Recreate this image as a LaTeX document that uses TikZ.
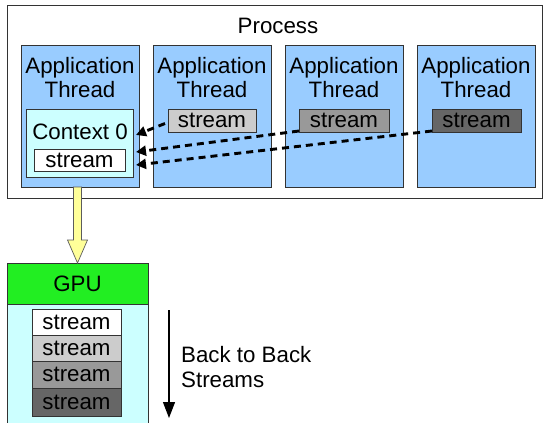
\documentclass[tikz,border=0pt]{standalone}
\usepackage{fontspec}
\setmainfont{Liberation Sans}
\usetikzlibrary{arrows.meta,calc}
\definecolor{threadblue}{HTML}{99CCFF}
\definecolor{ctxcyan}{HTML}{CCFFFF}
\definecolor{gpugreen}{HTML}{22EE22}
\definecolor{arrowyellow}{HTML}{FFFF99}
\definecolor{edgegray}{HTML}{333333}
\definecolor{sgrayA}{HTML}{CCCCCC}
\definecolor{sgrayB}{HTML}{999999}
\definecolor{sgrayC}{HTML}{666666}
\tikzset{
  box/.style={draw=edgegray, line width=0.9pt, inner sep=0pt, outer sep=0pt, anchor=north west},
  lbl/.style={anchor=base, inner sep=0pt},
  dasharrow/.style={line width=2.9pt, dash pattern=on 7pt off 5pt, -{Triangle[length=10pt,width=10pt]}},
}
\begin{document}
\begin{tikzpicture}[x=1pt,y=-1pt,font=\fontsize{22.3}{24}\selectfont]
\useasboundingbox (0,0) rectangle (544,423);
\clip (0,0) rectangle (544,423);
% process
\node[box, fill=white, minimum width=535pt, minimum height=193pt] (proc) at (7,5) {};
\node[lbl] (proclbl) at (278,33) {Process};
% threads
\foreach \i/\x in {1/21,2/153,3/285,4/417}{
  \node[box, fill=threadblue, minimum width=118pt, minimum height=142pt] (t\i) at (\x,45) {};
  \node[lbl] (t\i a) at ($(t\i.north)+(0,28)$) {Application};
  \node[lbl] (t\i b) at ($(t\i.north)+(0,52)$) {Thread};
}
% context
\node[box, fill=ctxcyan, minimum width=107pt, minimum height=68pt] (ctx) at (26,109) {};
\node[lbl] (ctxlbl) at (80,139) {Context 0};
\node[box, fill=white, minimum width=91pt, minimum height=22pt] (s0) at (34,149) {stream};
% thread streams
\node[box, fill=sgrayA, minimum width=88pt, minimum height=23pt] (s2) at (168,109) {stream};
\node[box, fill=sgrayB, minimum width=90pt, minimum height=23pt] (s3) at (299,109) {stream};
\node[box, fill=sgrayC, minimum width=89pt, minimum height=23pt] (s4) at (432,109) {stream};
% dashed connectors
\draw[dasharrow] ($(s2.west)+(-3,3)$) -- ($(ctx.east)+(3,-8)$);
\draw[dasharrow] ($(s3.south west)+(0,-1)$) -- ($(ctx.east)+(3,9)$);
\draw[dasharrow] ($(s4.south west)+(0,-1)$) -- ($(ctx.east)+(3,22)$);
% GPU
\node[box, fill=gpugreen, minimum width=141pt, minimum height=41pt] (gpu) at (7,263) {GPU};
\node[box, fill=ctxcyan, minimum width=141pt, minimum height=130pt] (gpubody) at (7,304) {};
\node[box, fill=white, minimum width=89pt, minimum height=26pt] (g1) at (32,309) {stream};
\node[box, fill=sgrayA, minimum width=89pt, minimum height=26pt] (g2) at (32,335) {stream};
\node[box, fill=sgrayB, minimum width=89pt, minimum height=27pt] (g3) at (32,361) {stream};
\node[box, fill=sgrayC, minimum width=89pt, minimum height=28pt] (g4) at (32,388) {stream};
% yellow block arrow
\coordinate (ya) at (gpu.north |- t1.south);
\filldraw[fill=arrowyellow, draw=edgegray!80, line width=0.7pt]
  ($(ya)+(-4,0)$) -- ($(gpu.north)+(-4,-23)$) -- ($(gpu.north)+(-10,-23)$) -- (gpu.north)
  -- ($(gpu.north)+(10,-23)$) -- ($(gpu.north)+(4,-23)$) -- ($(ya)+(4,0)$) -- cycle;
% back to back arrow
\coordinate (bt) at (169,310);
\coordinate (bb) at (169,418);
\draw[line width=1.3pt, -{Triangle[length=16pt,width=12pt]}] (bt) -- (bb);
\node[anchor=base west, inner sep=0pt] (bb1) at (181,362) {Back to Back};
\node[anchor=base west, inner sep=0pt] (bb2) at (181,387) {Streams};
\end{tikzpicture}
\end{document}
